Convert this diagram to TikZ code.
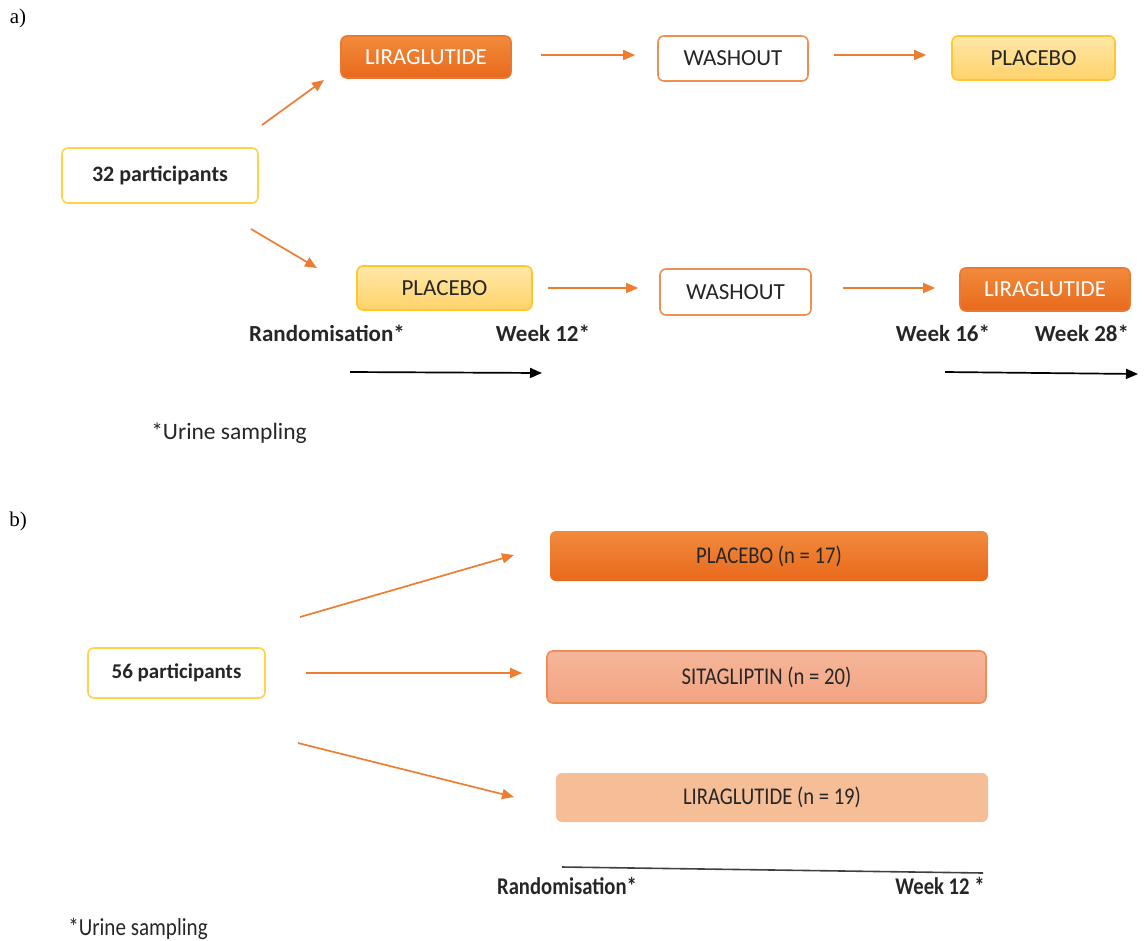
\documentclass[tikz,border=0pt]{standalone}
\usepackage{fontspec}
\setmainfont{Carlito}
\newfontfamily\serifnum{Liberation Serif}
\newfontfamily\condfont[FakeStretch=0.86]{Carlito}
\usetikzlibrary{arrows.meta,shadings}
\definecolor{acc}{HTML}{ED7D31}
\definecolor{orT}{HTML}{F28A3C}
\definecolor{orB}{HTML}{E8691C}
\definecolor{yeT}{HTML}{FFE8A8}
\definecolor{yeB}{HTML}{FFD26A}
\definecolor{yeD}{HTML}{FFC72C}
\definecolor{yeL}{HTML}{FFD347}
\definecolor{saT}{HTML}{F5B699}
\definecolor{saB}{HTML}{F2A482}
\definecolor{saD}{HTML}{F08C55}
\definecolor{peach}{HTML}{F5BE97}
\definecolor{txt}{HTML}{262626}
\tikzset{
  box/.style={rounded corners=6pt, line width=1.6pt, align=center, inner sep=0pt, text=txt},
  startbox/.style={box, draw=yeL, fill=white, font=\fontsize{22}{24}\selectfont\bfseries},
  orbox/.style={box, draw=orB!90, top color=orT, bottom color=orB, text=white, font=\fontsize{23}{25}\selectfont},
  yebox/.style={box, draw=yeD, top color=yeT, bottom color=yeB, font=\fontsize{23}{25}\selectfont},
  wbox/.style={box, draw=acc!85, fill=white, font=\fontsize{23}{25}\selectfont},
  bbox/.style={rounded corners=6pt, align=center, inner sep=0pt, text=txt, font=\condfont\fontsize{24}{26}\selectfont},
  arr/.style={draw=acc, line width=1.7pt, -{Triangle[length=12pt,width=10pt]}},
  tarr/.style={draw=black, line width=1.7pt, -{Triangle[length=12pt,width=10pt]}},
  lab/.style={inner sep=0pt, text=txt, font=\fontsize{23}{25}\selectfont\bfseries},
  blab/.style={inner sep=0pt, text=txt, font=\condfont\fontsize{24}{26}\selectfont\bfseries},
  note/.style={inner sep=0pt, text=txt, font=\fontsize{23.5}{25}\selectfont},
  panel/.style={inner sep=0pt, font=\serifnum\fontsize{21}{23}\selectfont}
}
\begin{document}
\begin{tikzpicture}[x=1pt,y=-1pt]
\useasboundingbox (0,0) rectangle (1147,940);
% ---------- panel a ----------
\node[panel] (pa) at (18,18) {a)};
\node[startbox, minimum width=196pt, minimum height=55pt] (p1) at (160,175.5) {32 participants};
\node[orbox, minimum width=170pt, minimum height=42pt] (l1) at (426,57) {LIRAGLUTIDE};
\node[wbox, minimum width=150pt, minimum height=45pt] (w1) at (733,58.5) {WASHOUT};
\node[yebox, minimum width=163pt, minimum height=44pt] (pl1) at (1033.5,58) {PLACEBO};
\node[yebox, minimum width=175pt, minimum height=44pt] (pl2) at (444.5,288) {PLACEBO};
\node[wbox, minimum width=151pt, minimum height=46pt] (w2) at (735.5,292) {WASHOUT};
\node[orbox, minimum width=170pt, minimum height=43pt] (l2) at (1045,289.5) {LIRAGLUTIDE};

\coordinate (d1s) at (262,125);
\coordinate (d1e) at (324,80);
\coordinate (d2s) at (251,229);
\coordinate (d2e) at (317,268);
\draw[arr] (d1s) -- (d1e);
\draw[arr] (d2s) -- (d2e);
\draw[arr, shorten <=29pt, shorten >=22pt] (l1.east |- 0,55) -- (w1.west |- 0,55);
\draw[arr, shorten <=25pt, shorten >=25pt] (w1.east |- 0,55) -- (pl1.west |- 0,55);
\draw[arr, shorten <=15pt, shorten >=21pt] (pl2.east |- 0,288) -- (w2.west |- 0,288);
\draw[arr, shorten <=31pt, shorten >=24pt] (w2.east |- 0,288) -- (l2.west |- 0,288);

\node[lab] (r1) at (327,333) {Randomisation*};
\node[lab] (k12) at (543,333) {Week 12*};
\node[lab] (k16) at (943,333) {Week 16*};
\node[lab] (k28) at (1082,333) {Week 28*};
\coordinate (t1s) at (350,372);
\coordinate (t1e) at (542,373);
\coordinate (t2s) at (945,372);
\coordinate (t2e) at (1138,374);
\draw[tarr] (t1s) -- (t1e);
\draw[tarr] (t2s) -- (t2e);
\node[note] (n1) at (229,433) {*Urine sampling};

% ---------- panel b ----------
\node[panel] (pb) at (18,521) {b)};
\node[startbox, minimum width=177pt, minimum height=50pt, font=\fontsize{21}{23}\selectfont\bfseries] (p2) at (176.5,673) {56 participants};
\node[bbox, top color=orT, bottom color=orB, minimum width=438pt, minimum height=50pt] (b1) at (769,556) {PLACEBO (n = 17)};
\node[bbox, draw=saD, line width=1.6pt, top color=saT, bottom color=saB, minimum width=439pt, minimum height=52pt] (b2) at (766.5,677) {SITAGLIPTIN (n = 20)};
\node[bbox, fill=peach, minimum width=432pt, minimum height=49pt] (b3) at (772,797.5) {LIRAGLUTIDE (n = 19)};

\coordinate (e1s) at (300,617);
\coordinate (e1e) at (514,555);
\coordinate (e3s) at (298,743);
\coordinate (e3e) at (514,797);
\draw[arr] (e1s) -- (e1e);
\draw[arr, shorten <=40pt, shorten >=24pt] (p2.east) -- (b2.west |- p2.east);
\draw[arr] (e3s) -- (e3e);

\coordinate (ls) at (562,867);
\coordinate (le) at (983,873);
\draw[line width=1.6pt, draw=black!75] (ls) -- (le);
\node[blab] (r2) at (567,886) {Randomisation*};
\node[blab] (w12) at (940,886) {Week 12 *};
\node[note, font=\condfont\fontsize{24.5}{26}\selectfont] (n2) at (138,929) {*Urine sampling};
\end{tikzpicture}
\end{document}
